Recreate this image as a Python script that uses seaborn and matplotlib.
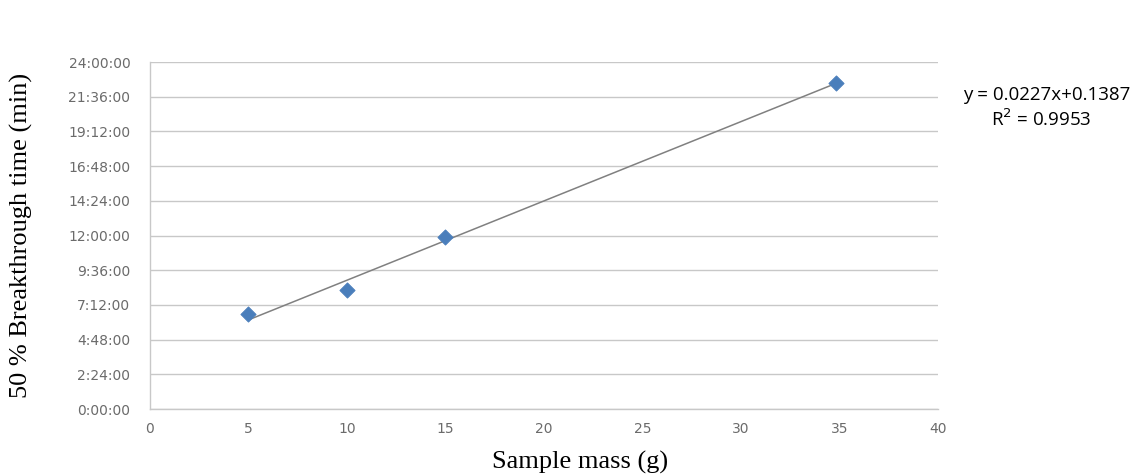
import matplotlib
matplotlib.use("Agg")
import matplotlib.pyplot as plt
import seaborn as sns
import pandas as pd
import numpy as np

# Data (sample mass in g, breakthrough time in hours)
mass_g = [5, 10, 15, 34.8]
time_h = [6.57, 8.23, 11.9, 22.55]
y_ticks_h = [0, 2.4, 4.8, 7.2, 9.6, 12, 14.4, 16.8, 19.2, 21.6, 24]
y_tick_labels = ["0:00:00", "2:24:00", "4:48:00", "7:12:00", "9:36:00", "12:00:00",
                 "14:24:00", "16:48:00", "19:12:00", "21:36:00", "24:00:00"]
x_ticks = [0, 5, 10, 15, 20, 25, 30, 35, 40]
equation_text = "y = 0.0227x+0.1387"
r2_text = "R$^2$ = 0.9953"

df = pd.DataFrame({"mass": mass_g, "time": time_h})

sns.set_theme(style="white")
fig = plt.figure(figsize=(11.44, 4.74), dpi=100)
ax = fig.add_axes([0.131, 0.137, 0.689, 0.732])

sns.regplot(data=df, x="mass", y="time", ax=ax, ci=None, truncate=True,
            scatter=False, line_kws=dict(color="#808080", lw=1.1))
sns.scatterplot(data=df, x="mass", y="time", ax=ax, marker="D", s=60,
                color="#4A7EBB", edgecolor="#4A7EBB", zorder=5)

ax.set_xlim(0, 40)
ax.set_ylim(0, 24)
ax.set_xticks(x_ticks)
ax.set_xticklabels([str(t) for t in x_ticks])
ax.set_yticks(y_ticks_h)
ax.set_yticklabels(y_tick_labels)
ax.tick_params(axis="both", length=0, labelsize=10, colors="#6b6b6b")
ax.tick_params(axis="y", pad=14)
ax.tick_params(axis="x", pad=9)
ax.yaxis.grid(True, color="#c8c8c8", lw=1)
ax.xaxis.grid(False)
for s in ["top", "right"]:
    ax.spines[s].set_visible(False)
for s in ["left", "bottom"]:
    ax.spines[s].set_color("#c8c8c8")
    ax.spines[s].set_linewidth(1)

ax.set_xlabel("Sample mass (g)", family="Liberation Serif", fontsize=19, color="black")
ax.set_ylabel("50 % Breakthrough time (min)", family="Liberation Serif", fontsize=19, color="black")
ax.xaxis.set_label_coords((580 - 150) / 788, -(462 - 409) / 347)
ax.yaxis.set_label_coords(-(150 - 22) / 788, 0.5)
ax.xaxis.label.set_va("center")
ax.yaxis.label.set_va("center")

fig.text(1047 / 1144, 1 - 95 / 474, equation_text, family="Open Sans", fontsize=13.5,
         ha="center", va="center", color="black")
fig.text(1041 / 1144, 1 - 119 / 474, r2_text, family="Open Sans", fontsize=13.5,
         ha="center", va="center", color="black")

fig.savefig("out.png", dpi=100)
